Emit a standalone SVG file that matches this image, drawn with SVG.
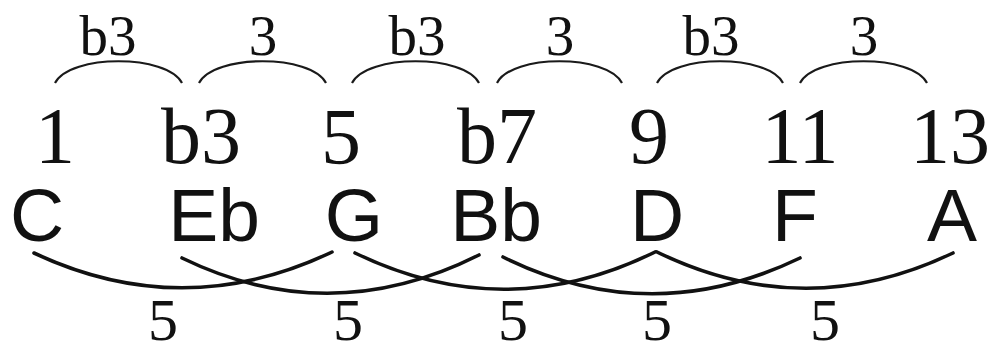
<svg xmlns="http://www.w3.org/2000/svg" width="995" height="347" viewBox="0 0 995 347">
<style>
.deg{font-family:"Liberation Serif",serif;font-size:80px;fill:#111;text-anchor:middle}
.note{font-family:"Liberation Sans",sans-serif;font-size:75px;fill:#111;text-anchor:middle}
.top{font-family:"Liberation Serif",serif;font-size:57px;fill:#111;text-anchor:middle}
.bot{font-family:"Liberation Serif",serif;font-size:60px;fill:#111;text-anchor:middle}
.arcT{fill:none;stroke:#1a1a1a;stroke-width:2.2}
.arcB{fill:none;stroke:#111;stroke-width:3.6;stroke-linecap:round}
</style>
<rect width="995" height="347" fill="#fff"/>
<g id="tone-1"><text class="deg" x="55" y="163">1</text><text class="note" x="37" y="241">C</text></g>
<g id="tone-b3"><text class="deg" x="201" y="163">b3</text><text class="note" x="214" y="241">Eb</text></g>
<g id="tone-5"><text class="deg" x="341" y="164">5</text><text class="note" x="354" y="241">G</text></g>
<g id="tone-b7"><text class="deg" x="497" y="163">b7</text><text class="note" x="496" y="241">Bb</text></g>
<g id="tone-9"><text class="deg" x="649" y="163">9</text><text class="note" x="657" y="241">D</text></g>
<g id="tone-11"><text class="deg" x="800" y="163">11</text><text class="note" x="795" y="241">F</text></g>
<g id="tone-13"><text class="deg" x="950" y="163">13</text><text class="note" x="952" y="241">A</text></g>
<g id="connectors">
<path class="arcT" d="M55,83 C70,54 167,54 182,83"/>
<path class="arcT" d="M199,83 C214,54 311,54 326,83"/>
<path class="arcT" d="M352,83 C367,54 464,54 479,83"/>
<path class="arcT" d="M497,83 C512,54 607,54 622,83"/>
<path class="arcT" d="M657,83 C672,54 768,54 783,83"/>
<path class="arcT" d="M800,83 C815,54 912,54 927,83"/>
<path class="arcB" d="M34,253 Q183,323 332,252"/>
<path class="arcB" d="M182,258 Q330,330 479,255"/>
<path class="arcB" d="M355,253 Q505,326 655,252"/>
<path class="arcB" d="M503,257 Q651,330 800,258"/>
<path class="arcB" d="M657,252 Q805,324 953,253"/>
</g>
<g id="interval-labels">
<text class="top" x="108" y="55">b3</text>
<text class="top" x="263" y="55">3</text>
<text class="top" x="417" y="55">b3</text>
<text class="top" x="560" y="55">3</text>
<text class="top" x="711" y="55">b3</text>
<text class="top" x="864" y="55">3</text>
<text class="bot" x="163" y="340">5</text>
<text class="bot" x="348" y="340">5</text>
<text class="bot" x="513" y="340">5</text>
<text class="bot" x="657" y="340">5</text>
<text class="bot" x="825" y="340">5</text>
</g>
</svg>
